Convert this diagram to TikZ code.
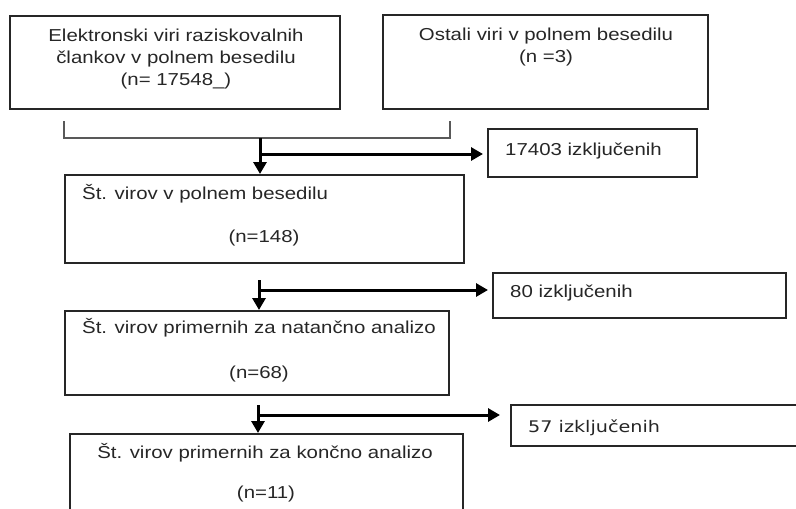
\documentclass[tikz,border=0pt]{standalone}
\usepackage{fontspec}
\setmainfont{Liberation Sans}[FakeStretch=1.18]
\newfontfamily\dejavu{DejaVu Sans}[FakeStretch=1.2]
\usetikzlibrary{arrows.meta}
\begin{document}
\begin{tikzpicture}[x=1pt,y=-1pt,
  box/.style={draw=black!85, line width=1.6pt, inner sep=0pt, anchor=north west},
  txt/.style={inner sep=0pt, font=\fontsize{17.3}{20.5}\selectfont, text=black!85},
  bracket/.style={draw=black!65, line width=1.3pt},
  flow/.style={draw=black, line width=3pt},
  arr/.style={flow, -{Triangle[width=13pt,length=12pt]}}]
\useasboundingbox (0,0) rectangle (796,509);
\clip (0,0) rectangle (796,509);
% boxes
\node[box, minimum width=330pt, minimum height=93pt] (b1) at (9,15) {};
\node[box, minimum width=325pt, minimum height=94pt] (b2) at (382,14) {};
\node[box, minimum width=209pt, minimum height=48pt] (e1) at (487,128) {};
\node[box, minimum width=399pt, minimum height=88pt] (b3) at (64,174) {};
\node[box, minimum width=293pt, minimum height=45pt] (e2) at (492,272) {};
\node[box, minimum width=384pt, minimum height=84pt] (b4) at (64,310) {};
\node[box, minimum width=330pt, minimum height=41pt] (e3) at (510,404) {};
\node[box, minimum width=393pt, minimum height=120pt] (b5) at (69,433) {};
% texts
\node[txt, anchor=base] (t1a) at (176,41) {Elektronski viri raziskovalnih};
\node[txt, anchor=base] (t1b) at (176,63) {člankov v polnem besedilu};
\node[txt, anchor=base] (t1c) at (176,85) {(n= 17548\_)};
\node[txt, anchor=base] (t2a) at (546,40) {Ostali viri v polnem besedilu};
\node[txt, anchor=base] (t2b) at (546,62) {(n =3)};
\node[txt, anchor=base west] (te1) at (505,155) {17403 izključenih};
\node[txt, anchor=base west] (t3a) at (82,199) {Št. virov v polnem besedilu};
\node[txt, anchor=base] (t3b) at (264,242) {(n=148)};
\node[txt, anchor=base west] (te2) at (510,297) {80 izključenih};
\node[txt, anchor=base west] (t4a) at (82,333) {Št. virov primernih za natančno analizo};
\node[txt, anchor=base] (t4b) at (259,378) {(n=68)};
\node[txt, anchor=base west, font=\dejavu\fontsize{16}{19}\selectfont] (te3) at (528,432) {57 izključenih};
\node[txt, anchor=base] (t5a) at (265,458) {Št. virov primernih za končno analizo};
\node[txt, anchor=base] (t5b) at (266,498) {(n=11)};
% bracket
\coordinate (bl1) at (64,121);
\coordinate (bl2) at (64,138);
\coordinate (br2) at (450,138);
\coordinate (br1) at (450,121);
\coordinate (m1) at (260,138);
\draw[bracket] (bl1) -- (bl2) -- (br2) -- (br1);
% flow 1
\coordinate (j1) at (260,154);
\draw[arr] (m1) -- (m1 |- b3.north);
\draw[arr, shorten >=4pt] (j1) -- (j1 -| e1.west);
% flow 2
\coordinate (s2) at (259,280);
\coordinate (j2) at (259,290);
\draw[arr] (s2) -- (s2 |- b4.north);
\draw[arr, shorten >=4pt] (j2) -- (j2 -| e2.west);
% flow 3
\coordinate (s3) at (258,405);
\coordinate (j3) at (258,415);
\draw[arr] (s3) -- (s3 |- b5.north);
\draw[arr, shorten >=10pt] (j3) -- (j3 -| e3.west);
\end{tikzpicture}
\end{document}
